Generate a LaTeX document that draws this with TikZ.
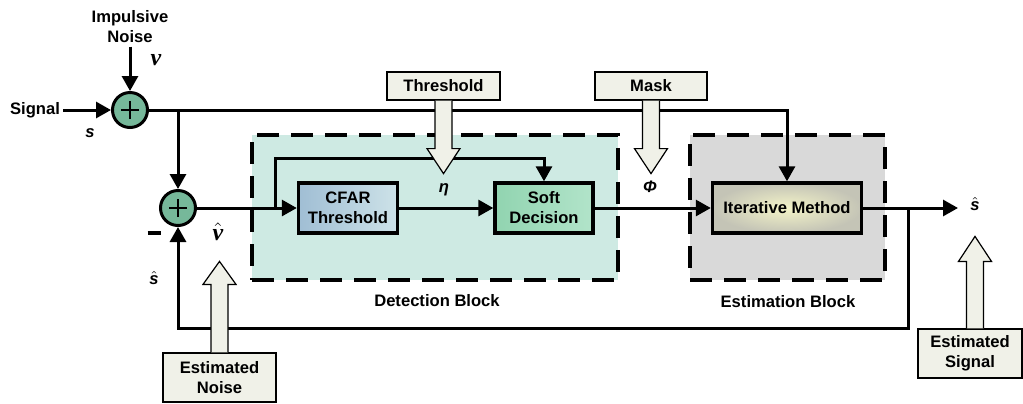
\documentclass[tikz,border=0pt]{standalone}
\usepackage{fontspec}
\setmainfont{Liberation Sans}
\newfontfamily\greekserif{Liberation Serif}
\usepackage{tikz}
\usetikzlibrary{arrows.meta,shadows}

\definecolor{detfill}{RGB}{206,234,227}
\definecolor{estfill}{RGB}{217,217,217}
\definecolor{sumfill}{RGB}{118,184,154}
\definecolor{callfill}{RGB}{240,241,232}
\definecolor{cfarleft}{RGB}{160,190,212}
\definecolor{cfarright}{RGB}{205,226,232}
\definecolor{softleft}{RGB}{145,212,176}
\definecolor{softright}{RGB}{178,228,202}
\definecolor{iterin}{RGB}{244,244,200}
\definecolor{iterout}{RGB}{196,196,182}

\newcommand{\hollowarrow}[3]{%
  \fill[callfill] (#1) ++(-8.5,0) -- ++(0,#2) -- ++(-8,0) -- ++(16.5,#3) -- ++(16.5,{-(#3)}) -- ++(-8,0) -- ++(0,{-(#2)}) -- cycle;
  \draw[line width=0.6pt] (#1) ++(-8.5,0) -- ++(0,#2) -- ++(-8,0) -- ++(16.5,#3) -- ++(16.5,{-(#3)}) -- ++(-8,0) -- ++(0,{-(#2)});}

\begin{document}
\begin{tikzpicture}[x=0.5pt,y=-0.5pt,line width=1.5pt,>={Triangle[length=7.5pt,width=8pt]},
    every node/.style={font=\fontsize{8.3}{10}\selectfont\bfseries},
    sum/.style={circle,draw,fill=sumfill,minimum size=17.5pt,inner sep=0pt,line width=1.5pt,
      path picture={\draw[line width=1.3pt]
        ([xshift=-4.5pt]path picture bounding box.center) -- ([xshift=4.5pt]path picture bounding box.center)
        ([yshift=-4.5pt]path picture bounding box.center) -- ([yshift=4.5pt]path picture bounding box.center);}},
    blk/.style={draw,line width=1.7pt,minimum height=25pt,align=center,inner sep=1pt,
      drop shadow={shadow xshift=0.8pt,shadow yshift=-0.8pt,fill=black!35}},
    grp/.style={draw,dash pattern=on 11pt off 6pt,line width=1.7pt,inner sep=0pt,minimum height=72.5pt},
    call/.style={draw,line width=0.6pt,fill=callfill,align=center,inner sep=1pt,
      drop shadow={shadow xshift=0.6pt,shadow yshift=-0.6pt,fill=black!30}},
    lbl/.style={inner sep=1pt}]
   \useasboundingbox (0,0) rectangle (1023,403);

   \node[grp,fill=detfill,minimum width=183pt] (det) at (435,207.5) {};
   \node[grp,fill=estfill,minimum width=97.5pt] (est) at (787.5,207.5) {};
   \node[lbl] (detlbl) at (437,301) {Detection Block};
   \node[lbl] (estlbl) at (788,302) {Estimation Block};

   \node[lbl] (signal) at (35,110) {Signal};
   \node[lbl,align=center] (noise) at (130,27) {Impulsive\\Noise};
   \node[sum] (sum1) at (130,110) {};
   \node[sum] (sum2) at (178,208) {};
   \node[blk,minimum width=49.5pt,left color=cfarleft,right color=cfarright] (cfar) at (348,208) {CFAR\\Threshold};
   \node[blk,minimum width=49pt,left color=softleft,right color=softright] (soft) at (544,208) {Soft\\Decision};
   \node[blk,minimum width=74.5pt,inner color=iterin,outer color=iterout] (iter) at (787,208) {Iterative Method};

   \coordinate (tap1) at (178,110);
   \coordinate (tap2) at (275,208);
   \coordinate (etaup) at (275,158);
   \coordinate (tap3) at (908,208);
   \coordinate (fb) at (908,328);
   \coordinate (out) at (958,208);

   \draw[->] (signal) -- (sum1);
   \draw[->] (noise) -- (sum1);
   \draw[->] (sum1) -| (iter);
   \draw[->] (tap1) -- (sum2);
   \draw[->] (sum2) -- (cfar);
   \draw[->] (tap2) -- (etaup) -| (soft);
   \draw[->] (cfar) -- (soft);
   \draw[->] (soft) -- (iter);
   \draw[->] (iter) -- (out);
   \draw[->] (tap3) -- (fb) -| (sum2);

   \node[lbl] (nu) at (156,60) {\fontsize{12}{12}\selectfont\greekserif\bfseries\itshape ν};
   \node[lbl] (s) at (90,133) {\itshape s};
   \node[lbl] (minus) at (154,233) {\rule{6.5pt}{2pt}};
   \node[lbl] (shatin) at (154,278) {$\hat{\hbox{\bfseries\itshape s}}$};
   \node[lbl] (nuhat) at (218,232) {\fontsize{12}{12}\selectfont$\hat{\hbox{\greekserif\bfseries\itshape ν}}$};
   \node[lbl] (eta) at (444,190) {\itshape η};
   \node[lbl] (phi) at (650,187) {\itshape Φ};
   \node[lbl] (shatout) at (975,204) {$\hat{\hbox{\bfseries\itshape s}}$};

   \node[call,minimum width=56.5pt,minimum height=14pt] (thr) at (443.5,86) {Threshold};
   \node[call,minimum width=56pt,minimum height=14pt] (mask) at (651,86) {Mask};
   \node[call,minimum width=56.5pt,minimum height=24.5pt] (estn) at (219.5,377.5) {Estimated\\Noise};
   \node[call,minimum width=52pt,minimum height=24.5pt] (ests) at (970,353.5) {Estimated\\Signal};

   \hollowarrow{thr.south}{48}{25}
   \hollowarrow{mask.south}{48}{25}
   \hollowarrow{estn.north}{-68}{-23}
   \hollowarrow{[xshift=2.5pt]ests.north}{-67}{-25}
\end{tikzpicture}
\end{document}
